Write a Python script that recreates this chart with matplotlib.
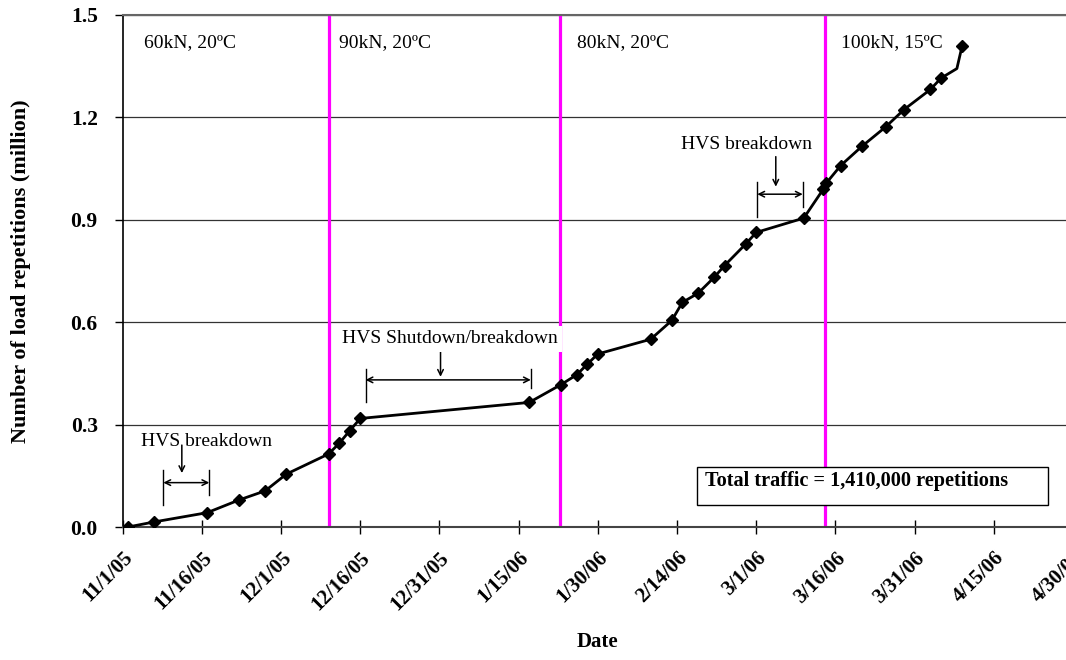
import numpy as np
import pandas as pd
import matplotlib
matplotlib.use("Agg")
import matplotlib.pyplot as plt
import matplotlib.dates as mdates
from matplotlib.patches import Rectangle

plt.rcParams['font.family'] = ['Liberation Serif', 'DejaVu Serif']

# cumulative load repetitions (million) by date
dates = pd.to_datetime([
    "2005-11-02", "2005-11-07", "2005-11-17", "2005-11-23", "2005-11-28",
    "2005-12-02", "2005-12-10", "2005-12-12", "2005-12-14", "2005-12-16",
    "2006-01-17", "2006-01-23", "2006-01-26", "2006-01-28", "2006-01-30",
    "2006-02-09", "2006-02-13", "2006-02-15", "2006-02-18", "2006-02-21",
    "2006-02-23", "2006-02-27", "2006-03-01", "2006-03-10", "2006-03-13 17:00",
    "2006-03-14 07:00", "2006-03-17", "2006-03-21", "2006-03-25 12:00", "2006-03-29",
    "2006-04-03", "2006-04-05", "2006-04-08", "2006-04-09",
], format="ISO8601")
reps = [
    0.000, 0.015, 0.042, 0.079, 0.106,
    0.155, 0.214, 0.245, 0.282, 0.318,
    0.365, 0.417, 0.446, 0.477, 0.507,
    0.550, 0.605, 0.658, 0.685, 0.731,
    0.766, 0.829, 0.863, 0.905, 0.990,
    1.008, 1.059, 1.115, 1.172, 1.223,
    1.282, 1.315, 1.343, 1.410,
]
# the 4/8 vertex carries no marker
marked = [i for i in range(len(reps)) if i != len(reps) - 2]

# load changes
phase_change = pd.to_datetime(["2005-12-10", "2006-01-22 19:00", "2006-03-14"],
                              format="ISO8601")
phase_start = pd.to_datetime(["2005-11-05", "2005-12-12", "2006-01-26", "2006-03-17"])
phase_text = ["60kN, 20ºC", "90kN, 20ºC", "80kN, 20ºC", "100kN, 15ºC"]

ticks = pd.date_range("2005-11-01", periods=13, freq="15D")
yticks = [0.0, 0.3, 0.6, 0.9, 1.2, 1.5]

fig = plt.figure(figsize=(10.66, 6.6), dpi=100)
ax = fig.add_axes([0.1151, 0.2015, 0.8915, 0.7758])

t0 = pd.Timestamp("2005-11-01")
def day(n):
    return t0 + pd.Timedelta(days=n)

ax.set_xlim(t0, pd.Timestamp("2006-04-30"))
ax.set_ylim(0, 1.5)

for y in yticks[1:]:
    ax.axhline(y, color="#333333", lw=0.9, zorder=1)

for d in phase_change:
    ax.axvline(d, color="#ff00ff", lw=2.3, zorder=2)

ax.plot(dates, reps, color="black", lw=2.0, marker="D", ms=6.5,
        markevery=marked, zorder=4)

for d, s in zip(phase_start, phase_text):
    ax.text(d, 1.418, s, fontsize=14, ha="left", va="center")

arrow = dict(arrowstyle="->", color="black", lw=1.1, shrinkA=0, shrinkB=0)
darrow = dict(arrowstyle="<->", color="black", lw=1.1, shrinkA=0, shrinkB=0)

# breakdown in November
ax.text(day(15.9), 0.251, "HVS breakdown", fontsize=14, ha="center", va="center")
ax.annotate("", xy=(day(11.2), 0.158), xytext=(day(11.2), 0.240), arrowprops=arrow)
ax.annotate("", xy=(day(7.7), 0.130), xytext=(day(16.4), 0.130), arrowprops=darrow)
ax.plot([day(7.7)] * 2, [0.167, 0.064], color="black", lw=1.0)
ax.plot([day(16.4)] * 2, [0.167, 0.094], color="black", lw=1.0)

# holiday shutdown
ax.text(day(62.0), 0.551, "HVS Shutdown/breakdown", fontsize=14, ha="center",
        va="center", zorder=5,
        bbox=dict(facecolor="white", edgecolor="none", pad=3))
ax.annotate("", xy=(day(60.2), 0.440), xytext=(day(60.2), 0.519), arrowprops=arrow)
ax.annotate("", xy=(day(46.0), 0.431), xytext=(day(77.3), 0.431), arrowprops=darrow)
ax.plot([day(46.0)] * 2, [0.462, 0.367], color="black", lw=1.0)
ax.plot([day(77.3)] * 2, [0.462, 0.407], color="black", lw=1.0)

# breakdown in March
ax.text(day(118.2), 1.122, "HVS breakdown", fontsize=14, ha="center", va="center")
ax.annotate("", xy=(day(123.7), 0.997), xytext=(day(123.7), 1.085), arrowprops=arrow)
ax.annotate("", xy=(day(120.2), 0.975), xytext=(day(128.8), 0.975), arrowprops=darrow)
ax.plot([day(120.2)] * 2, [1.012, 0.909], color="black", lw=1.0)
ax.plot([day(128.8)] * 2, [1.012, 0.938], color="black", lw=1.0)

# total traffic box
ax.add_patch(Rectangle((mdates.date2num(day(108.8)), 0.0645),
                       175.2 - 108.8, 0.1115, facecolor="white",
                       edgecolor="black", lw=1.0, zorder=5))
ax.text(day(110.3), 0.135, "Total traffic = 1,410,000 repetitions",
        fontsize=14.6, fontweight="bold", ha="left", va="center", zorder=6)

ax.set_xticks(ticks)
ax.set_xticklabels(["%d/%d/%s" % (t.month, t.day, t.strftime("%y")) for t in ticks])
ax.set_yticks(yticks)
ax.set_yticklabels(["%.1f" % v for v in yticks])

for lab in ax.get_xticklabels():
    lab.set_rotation(45)
    lab.set_ha("right")
    lab.set_rotation_mode("anchor")
    lab.set_fontweight("bold")
    lab.set_fontsize(15)
for lab in ax.get_yticklabels():
    lab.set_fontweight("bold")
    lab.set_fontsize(15.5)

ax.tick_params(axis="x", direction="inout", length=10, width=1, pad=10)
ax.tick_params(axis="y", direction="out", length=6, width=1, pad=12)

ax.spines["right"].set_visible(False)
ax.spines["top"].set_color("#666666")
ax.spines["top"].set_linewidth(1.5)
ax.spines["left"].set_linewidth(1.2)
ax.spines["bottom"].set_linewidth(1.5)
ax.spines["bottom"].set_color("#444444")

ax.set_xlabel("Date", fontsize=15, fontweight="bold")
ax.xaxis.set_label_coords(0.5, -0.205)
ax.set_ylabel("Number of load repetitions (million)", fontsize=16,
              fontweight="bold")
ax.yaxis.set_label_coords(-0.097, 0.5)

fig.savefig("out.png", dpi=100)
